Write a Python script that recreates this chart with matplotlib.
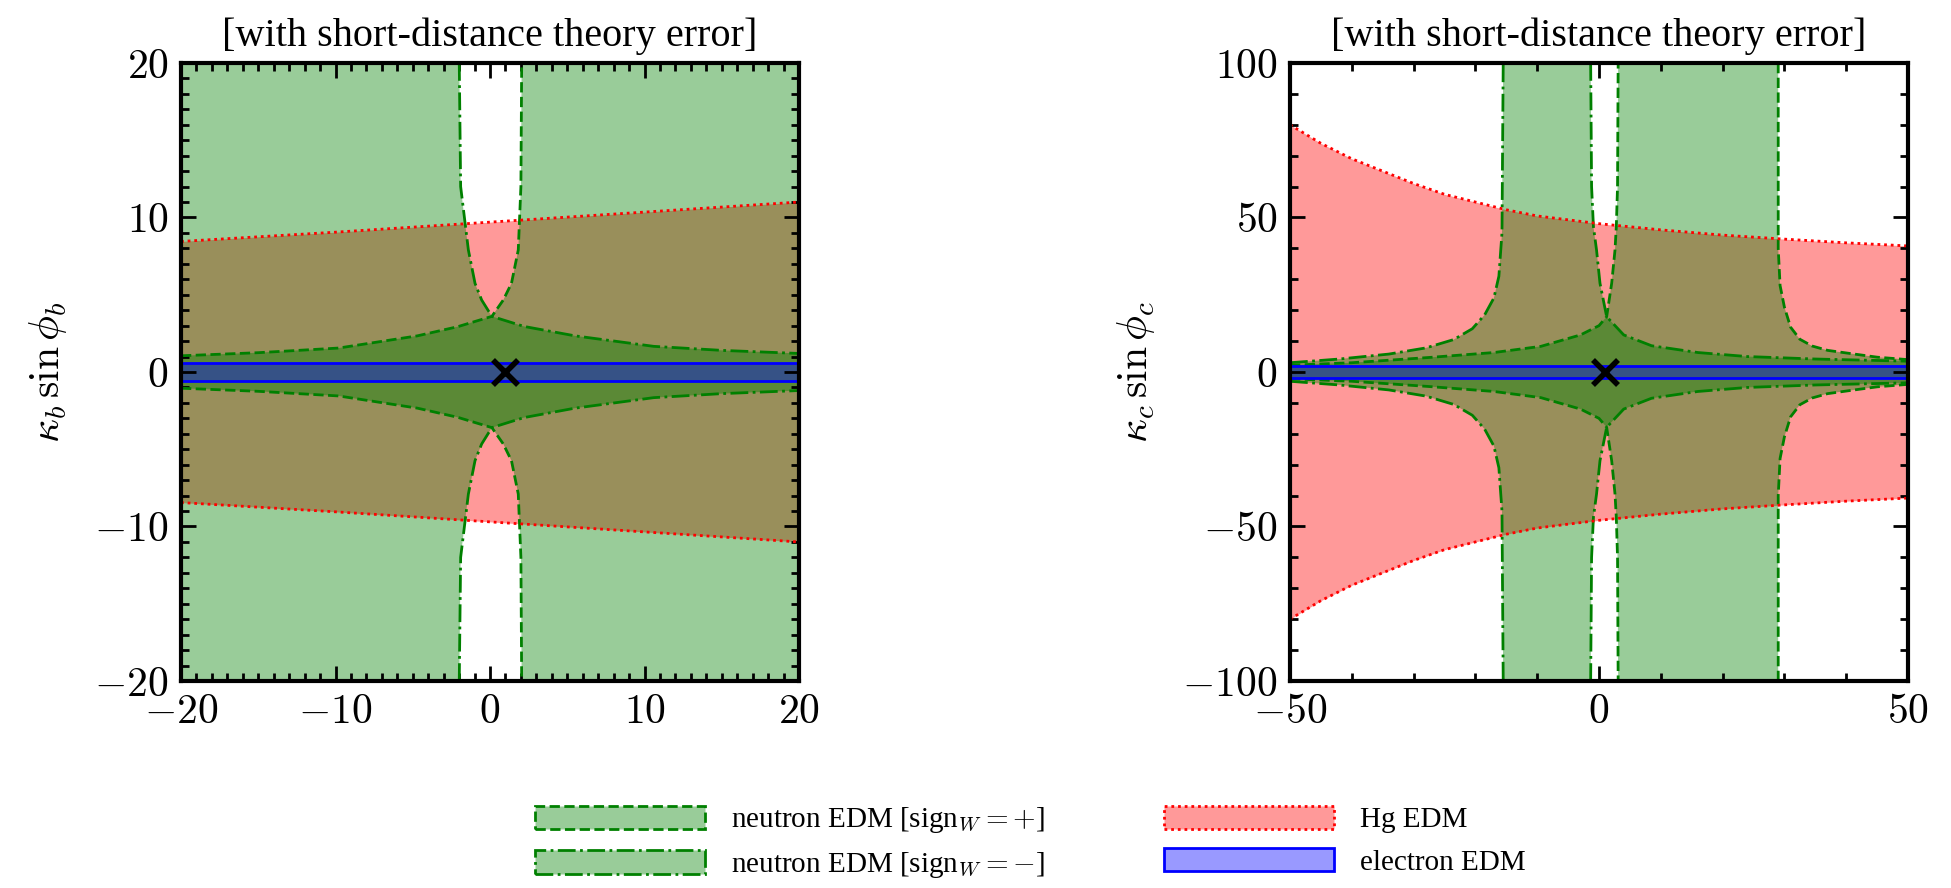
import matplotlib
matplotlib.use("Agg")
import matplotlib.pyplot as plt
from matplotlib.patches import Patch
from matplotlib.ticker import MultipleLocator, FuncFormatter

plt.rcParams["font.family"] = ["Liberation Serif", "DejaVu Serif"]
plt.rcParams["mathtext.fontset"] = "cm"

# ── Values ──────────────────────────────────────────────────────────────────
# Each region is symmetric in y; only the upper boundary is listed.
# "left" curves run from the left edge up to the top, "right" curves from the
# top down to the right edge.

# panel b
b_xlim = (-20, 20)
b_ylim = (-20, 20)
b_plus_left_x = [-20, -15, -9.8, -4.7, -2.1, 0.12, 0.86, 1.39, 1.83, 2.0, 2.05]
b_plus_left_y = [1.05, 1.25, 1.55, 2.34, 2.93, 3.6, 4.66, 5.74, 7.9, 12.0, 20.0]
b_minus_right_x = [-1.99, -1.9, -1.4, -0.97, -0.54, 0.12, 2.2, 5.5, 10.6, 15, 20]
b_minus_right_y = [20.0, 12.0, 7.9, 5.74, 4.66, 3.6, 2.95, 2.34, 1.66, 1.4, 1.2]
b_hg_x = [-20, -10, 0, 10, 20]
b_hg_y = [8.45, 9.05, 9.7, 10.35, 11.0]
b_electron = 0.6

# panel c
c_xlim = (-50, 50)
c_ylim = (-100, 100)
c_plus_left_x = [-50, -40, -27.5, -17, -9.4, -3, 0, 1.24, 2.05, 2.59, 2.8, 3.0, 3.1]
c_plus_left_y = [2.2, 3.0, 4.7, 6.3, 8.3, 12, 15, 17.9, 28.7, 39.5, 47, 60, 100]
c_plus_right_x = [29.0, 29.0, 29.3, 30.0, 31.0, 32.5, 34.5, 37, 40.6, 45, 50]
c_plus_right_y = [100, 40, 28, 21, 14.5, 10.6, 8.4, 7.0, 6.0, 4.8, 4.0]
c_minus_left_x = [-50, -42, -34, -28, -23.5, -20.5, -18.5, -17, -16.2, -15.7, -15.5]
c_minus_left_y = [3.0, 4.2, 5.8, 7.8, 10.5, 14.0, 18.5, 24.0, 31.0, 45.0, 100.0]
c_minus_right_x = [-1.35, -1.2, -0.9, -0.4, 0.16, 1.24, 4.0, 8.5, 16, 24, 35, 50]
c_minus_right_y = [100, 60, 47, 39.5, 28.7, 17.9, 12, 8.5, 6.3, 5.0, 4.2, 3.5]
c_hg_x = [-50, -45, -40, -35, -30, -25, -20, -15, -10, 0, 10, 20, 30, 40, 50]
c_hg_y = [80, 74, 69, 65, 61, 57.5, 55, 52.5, 50.5, 48, 46, 44.3, 43, 41.8, 40.8]
c_electron = 2.0

sm_point = (1.0, 0.0)

GREEN = (0, 0.5, 0)
GREEN_FILL = (0, 0.5, 0, 0.4)
RED_FILL = (1, 0, 0, 0.4)
BLUE_FILL = (0, 0, 1, 0.4)
DOTS = (0, (1, 1.4))


def neutron_fill(ax, left, right, xlim, ylim):
    # upper boundary from left to right, then its mirror back
    upper = []
    upper += list(zip(*left)) if left else [(xlim[0], ylim[1])]
    upper += list(zip(*right)) if right else [(xlim[1], ylim[1])]
    lower = [(x, -y) for x, y in reversed(upper)]
    pts = upper + lower
    ax.fill([p[0] for p in pts], [p[1] for p in pts], color=GREEN_FILL, lw=0)


def neutron_lines(ax, left, right, ls):
    for cx, cy in (c for c in (left, right) if c):
        ax.plot(cx, cy, color=GREEN, ls=ls, lw=2)
        ax.plot(cx, [-v for v in cy], color=GREEN, ls=ls, lw=2)


def hg_fill(ax, x, y):
    ax.fill_between(x, [-v for v in y], y, color=RED_FILL, lw=0)


def hg_lines(ax, x, y):
    ax.plot(x, y, color="r", ls=DOTS, lw=2)
    ax.plot(x, [-v for v in y], color="r", ls=DOTS, lw=2)


def electron_region(ax, h):
    ax.axhspan(-h, h, color=BLUE_FILL, lw=0)
    ax.axhline(h, color="b", lw=2)
    ax.axhline(-h, color="b", lw=2)


def style(ax, xlim, ylim, major, xminor, yminor, ylabel):
    ax.set_xlim(xlim)
    ax.set_ylim(ylim)
    ax.xaxis.set_major_locator(MultipleLocator(major[0]))
    ax.yaxis.set_major_locator(MultipleLocator(major[1]))
    ax.xaxis.set_minor_locator(MultipleLocator(xminor))
    ax.yaxis.set_minor_locator(MultipleLocator(yminor))
    fmt = FuncFormatter(lambda v, p: f"${v:g}$")
    ax.xaxis.set_major_formatter(fmt)
    ax.yaxis.set_major_formatter(fmt)
    ax.tick_params(which="both", direction="in", top=True, right=True,
                   width=2, labelsize=30, pad=9)
    ax.tick_params(which="major", length=11)
    ax.tick_params(which="minor", length=6)
    for s in ax.spines.values():
        s.set_linewidth(3)
    ax.set_title("[with short-distance theory error]", fontsize=29, pad=12)
    ax.set_ylabel(ylabel, fontsize=30, labelpad=18)


def panel(ax, plus, minus, hg_x, hg_y, e_half, xlim, ylim):
    hg_fill(ax, hg_x, hg_y)
    neutron_fill(ax, *plus, xlim, ylim)
    neutron_fill(ax, *minus, xlim, ylim)
    neutron_lines(ax, *plus, "--")
    neutron_lines(ax, *minus, "-.")
    hg_lines(ax, hg_x, hg_y)
    electron_region(ax, e_half)
    ax.plot(*sm_point, "kx", ms=18, mew=4, zorder=5)


fig = plt.figure(figsize=(19.51, 8.88), dpi=100)
ax_b = fig.add_axes([181 / 1951, 207 / 888, 618 / 1951, 618 / 888])
ax_c = fig.add_axes([1290 / 1951, 207 / 888, 618 / 1951, 618 / 888])

panel(ax_b,
      ((b_plus_left_x, b_plus_left_y), None),
      (None, (b_minus_right_x, b_minus_right_y)),
      b_hg_x, b_hg_y, b_electron, b_xlim, b_ylim)
style(ax_b, b_xlim, b_ylim, (10, 10), 1, 1, r"$\kappa_b\,\sin\phi_b$")

panel(ax_c,
      ((c_plus_left_x, c_plus_left_y), (c_plus_right_x, c_plus_right_y)),
      ((c_minus_left_x, c_minus_left_y), (c_minus_right_x, c_minus_right_y)),
      c_hg_x, c_hg_y, c_electron, c_xlim, c_ylim)
style(ax_c, c_xlim, c_ylim, (50, 50), 10, 10, r"$\kappa_c\,\sin\phi_c$")

handles = [
    Patch(facecolor=GREEN_FILL, edgecolor=GREEN, ls="--", lw=2),
    Patch(facecolor=GREEN_FILL, edgecolor=GREEN, ls="-.", lw=2),
    Patch(facecolor=RED_FILL, edgecolor="r", ls=DOTS, lw=2),
    Patch(facecolor=BLUE_FILL, edgecolor="b", lw=2),
]
labels = [
    r"neutron EDM [sign$_{W}=+$]",
    r"neutron EDM [sign$_{W}=-$]",
    "Hg EDM",
    "electron EDM",
]
fig.legend(handles, labels, ncol=2, loc="center left", bbox_to_anchor=(0.261, 0.051),
           frameon=False, fontsize=21, handlelength=5.8, handleheight=0.85,
           handletextpad=0.9, columnspacing=4.1, labelspacing=0.5)

fig.savefig("out.png", dpi=100)
